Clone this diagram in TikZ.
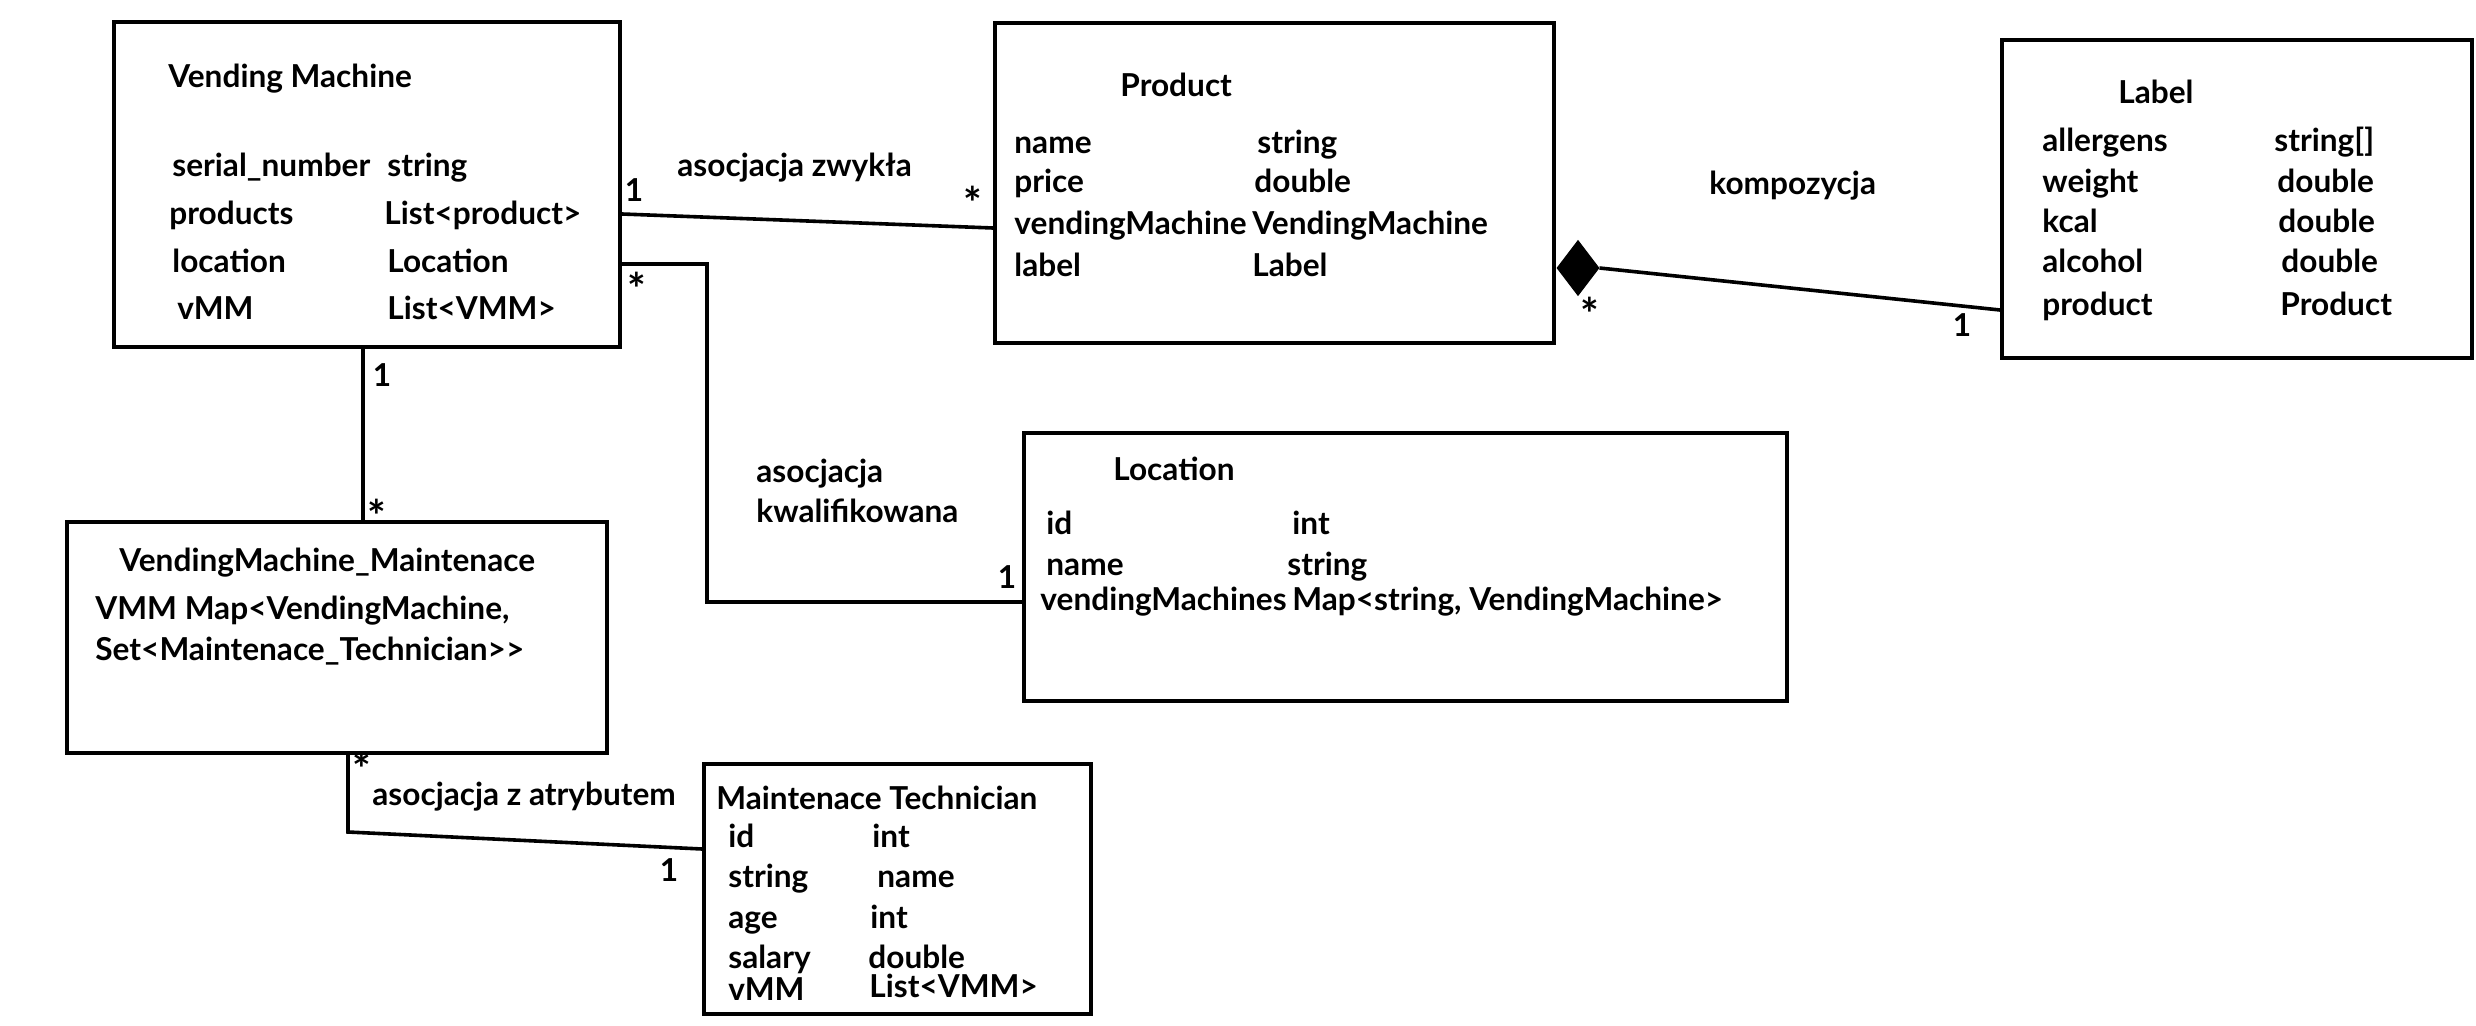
\documentclass[tikz,border=0pt]{standalone}
\usepackage{fontspec}
\setmainfont{Lato}
\usetikzlibrary{shapes.geometric}
\tikzset{
  umlbox/.style={draw, line width=2pt, inner sep=0pt},
  txt/.style={anchor=base west, inner sep=0pt, font=\fontsize{15.8}{18}\selectfont\bfseries},
  mult/.style={anchor=center, inner sep=0pt, font=\fontsize{15.8}{18}\selectfont\bfseries},
  star/.style={anchor=center, inner sep=0pt, font=\fontsize{22}{24}\selectfont\bfseries},
  conn/.style={line width=1.8pt},
}
\begin{document}
\begin{tikzpicture}[x=0.5pt,y=-0.5pt]
\fill[white] (0,0) rectangle (2476,1026);
\useasboundingbox (0,0) rectangle (2476,1026);
% boxes
\node[umlbox, minimum width=253pt, minimum height=162.5pt] (vm) at (367,184.5) {};
\node[umlbox, minimum width=279.5pt, minimum height=160pt] (prod) at (1274.5,183) {};
\node[umlbox, minimum width=235pt, minimum height=159pt] (lab) at (2237,199) {};
\node[umlbox, minimum width=381.5pt, minimum height=134pt] (loc) at (1405.5,567) {};
\node[umlbox, minimum width=270pt, minimum height=115.5pt] (vmm) at (337,637.5) {};
\node[umlbox, minimum width=193.5pt, minimum height=125pt] (mt) at (897.5,889) {};
\node[diamond, fill=black, draw=black, line width=0.5pt, inner sep=0pt, minimum width=21pt, minimum height=27.5pt] (dia) at (1578,268) {};
% connectors
\draw[conn] (vm.east |- 0,214) -- (prod.west |- 0,228);
\draw[conn] (vm.east |- 0,264) -- ++(85,0) |- (loc.west |- 0,602);
\draw[conn] (vm.south -| 363,0) -- (vmm.north -| 363,0);
\draw[conn] (vmm.south -| 348,0) -- (348,832) -- (mt.west |- 0,849);
\draw[conn] (dia.east) -- (lab.west |- 0,310);
% multiplicities
\node[mult] (m1) at (634,190) {1};
\node[star] (m2) at (973,203) {*};
\node[star] (m3) at (637,289) {*};
\node[mult] (m4) at (1007,577) {1};
\node[mult] (m5) at (382,375) {1};
\node[star] (m6) at (377,516) {*};
\node[star] (m7) at (362,769) {*};
\node[mult] (m8) at (669,870) {1};
\node[star] (m9) at (1590,314) {*};
\node[mult] (m10) at (1962,325) {1};
% association labels
\node[txt] (a1) at (677,177) {asocjacja zwykła};
\node[txt] (a2) at (1709,195) {kompozycja};
\node[txt] (a3) at (756,482) {asocjacja};
\node[txt] (a4) at (756,522) {kwalifikowana};
\node[txt] (a5) at (372,805) {asocjacja z atrybutem};
% Vending Machine
\node[txt] (v0) at (168,88) {Vending Machine};
\node[txt] (v1) at (172,177) {serial\_number};
\node[txt] (v1t) at (387,177) {string};
\node[txt] (v2) at (169,225) {products};
\node[txt] (v2t) at (384,225) {List<product>};
\node[txt] (v3) at (172,273) {location};
\node[txt] (v3t) at (387,273) {Location};
\node[txt] (v4) at (177,320) {vMM};
\node[txt] (v4t) at (387,320) {List<VMM>};
% Product
\node[txt] (p0) at (1120,97) {Product};
\node[txt] (p1) at (1014,154) {name};
\node[txt] (p1t) at (1257,154) {string};
\node[txt] (p2) at (1014,193) {price};
\node[txt] (p2t) at (1254,193) {double};
\node[txt] (p3) at (1014,235) {vendingMachine};
\node[txt] (p3t) at (1252,235) {VendingMachine};
\node[txt] (p4) at (1014,277) {label};
\node[txt] (p4t) at (1252,277) {Label};
% Label
\node[txt] (l0) at (2118,104) {Label};
\node[txt] (l1) at (2042,152) {allergens};
\node[txt] (l1t) at (2274,152) {string[]};
\node[txt] (l2) at (2042,193) {weight};
\node[txt] (l2t) at (2277,193) {double};
\node[txt] (l3) at (2042,233) {kcal};
\node[txt] (l3t) at (2278,233) {double};
\node[txt] (l4) at (2042,273) {alcohol};
\node[txt] (l4t) at (2281,273) {double};
\node[txt] (l5) at (2042,315) {product};
\node[txt] (l5t) at (2280,315) {Product};
% Location
\node[txt] (o0) at (1113,480) {Location};
\node[txt] (o1) at (1046,534) {id};
\node[txt] (o1t) at (1292,534) {int};
\node[txt] (o2) at (1046,575) {name};
\node[txt] (o2t) at (1287,575) {string};
\node[txt] (o3) at (1040,610) {vendingMachines};
\node[txt] (o3t) at (1292,610) {Map<string, VendingMachine>};
% VendingMachine_Maintenace
\node[txt] (n0) at (119,571) {VendingMachine\_Maintenace};
\node[txt] (n1) at (95,619) {VMM Map<VendingMachine,};
\node[txt] (n2) at (95,660) {Set<Maintenace\_Technician>{}>};
% Maintenace Technician
\node[txt] (t0) at (716,809) {Maintenace Technician};
\node[txt] (t1) at (728,847) {id};
\node[txt] (t1t) at (872,847) {int};
\node[txt] (t2) at (728,887) {string};
\node[txt] (t2t) at (877,887) {name};
\node[txt] (t3) at (728,928) {age};
\node[txt] (t3t) at (870,928) {int};
\node[txt] (t4) at (728,968) {salary};
\node[txt] (t4t) at (868,968) {double};
\node[txt] (t5) at (728,1000) {vMM};
\node[txt] (t5t) at (869,997) {List<VMM>};
\end{tikzpicture}
\end{document}
